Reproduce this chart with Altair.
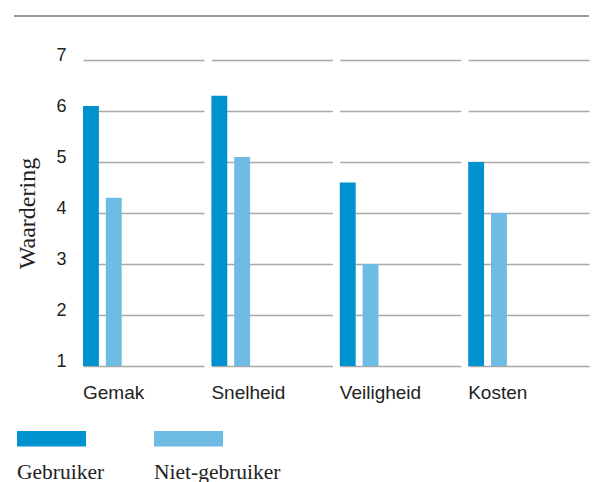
import altair as alt
import pandas as pd

categories = ["Gemak", "Snelheid", "Veiligheid", "Kosten"]
series = ["Gebruiker", "Niet-gebruiker"]
gebruiker = [6.1, 6.3, 4.6, 5.0]
niet_gebruiker = [4.3, 5.1, 3.0, 4.0]
y_ticks = [1, 2, 3, 4, 5, 6, 7]
colors = ["#0092CF", "#6EBBE3"]
# empty slots that leave the right part of each panel free
spare_slots = [" ", "  ", "   "]

rows = []
for c, g, n in zip(categories, gebruiker, niet_gebruiker):
    rows.append({"cat": c, "series": series[0], "value": g, "base": 1})
    rows.append({"cat": c, "series": series[1], "value": n, "base": 1})
df = pd.DataFrame(rows)

SANS = "Liberation Sans"
SERIF = "Liberation Serif"
INK = "#222222"

bars = alt.Chart(df).mark_bar().encode(
    x=alt.X("series:N", axis=None,
            scale=alt.Scale(domain=series + spare_slots, paddingInner=0.304,
                            paddingOuter=0.304, align=0)),
    y=alt.Y("value:Q",
            scale=alt.Scale(domain=[1, 7], nice=False, zero=False),
            axis=alt.Axis(values=y_ticks, title="Waardering", grid=True, domain=False,
                          ticks=False, labelPadding=17, labelFontSize=18, labelFont=SANS,
                          labelColor=INK, labelBaseline="alphabetic",
                          gridColor="#a9a9a9", gridWidth=1.5,
                          titleFont=SERIF, titleFontSize=24, titleFontWeight="normal",
                          titleColor=INK, titlePadding=16)),
    y2="base:Q",
    color=alt.Color("series:N", scale=alt.Scale(domain=series, range=colors), legend=None),
).properties(width=121, height=306)

facet = bars.facet(
    column=alt.Column("cat:N", sort=categories, title=None,
                      header=alt.Header(labelOrient="bottom", labelAnchor="start",
                                        labelFont=SANS, labelFontSize=19, labelColor=INK,
                                        labelPadding=18, labelBaseline="top")),
    spacing=7.4,
)

top_rule = alt.Chart(pd.DataFrame({"a": [0]})).mark_rule(color="#333333", strokeWidth=1.2).encode(
    x=alt.value(-69), x2=alt.value(506), y=alt.value(0)
).properties(width=480, height=2)

leg_df = pd.DataFrame({"series": series})
leg_scale = alt.Scale(domain=series, paddingInner=0.496, paddingOuter=0)
leg_rect = alt.Chart(leg_df).mark_rect(xOffset=-66).encode(
    x=alt.X("series:N", axis=None, scale=leg_scale),
    y=alt.value(0), y2=alt.value(15.5),
    color=alt.Color("series:N", scale=alt.Scale(domain=series, range=colors), legend=None),
)
leg_text = alt.Chart(leg_df).mark_text(align="left", baseline="alphabetic", font=SERIF,
                                       fontSize=21.5, color=INK, xOffset=-66).encode(
    x=alt.X("series:N", axis=None, bandPosition=0, scale=leg_scale),
    y=alt.value(48), text="series:N"
)
legend = alt.layer(leg_rect, leg_text).properties(width=206, height=50)

chart = alt.vconcat(top_rule, facet, legend, spacing=28).properties(
    padding={"left": 5, "top": 7, "right": 0, "bottom": 0}
).configure_view(stroke=None)

chart.save("out.html", embed_options={"renderer": "svg", "actions": False})
